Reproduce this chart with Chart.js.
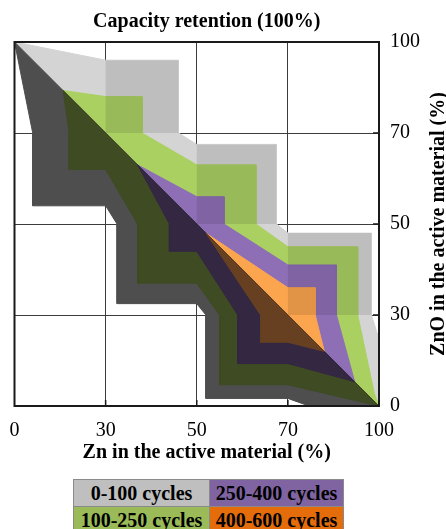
<!DOCTYPE html>
<html>
<head>
<meta charset="utf-8">
<title>Capacity retention</title>
<script src="https://cdn.jsdelivr.net/npm/chart.js@4.4.0/dist/chart.umd.min.js"></script>
<style>
  body { margin: 0; background: #fff; width: 446px; height: 529px; overflow: hidden; position: relative; }
  #chart { position: absolute; left: 0; top: 0; }
  #key { position: absolute; left: 73px; top: 479px; border-collapse: collapse; font: bold 20px "Liberation Serif", "Times New Roman", serif; color: #000; }
  #key td { border: 1px solid #8a8a8a; height: 26px; padding: 0; text-align: center; white-space: nowrap; line-height: 26px; }
  #key td:first-child { width: 135px; }
  #key td:last-child { width: 133px; }
</style>
</head>
<body>
<canvas id="chart" width="446" height="470"></canvas>
<table id="key"></table>
<script>
const tickValues = [0, 30, 50, 70, 100];
const tickLabels = ['0', '30', '50', '70', '100'];

const seriesNames = ['0-100 cycles', '100-250 cycles', '250-400 cycles', '400-600 cycles'];
const seriesColors = ['#bfbfbf', '#9bbb59', '#8064a2', '#e46c0a'];

// regions above the Zn + ZnO = 100 diagonal (light tones)
const band0to100Zn = [0, 30, 46, 46, 50, 67.5, 67.5, 70, 97.5, 97.5, 100, 100];
const band0to100ZnO = [100, 94, 94, 70, 67.5, 67.5, 50, 48, 48, 30, 22, 0];
const band100to250Zn = [16, 30, 38, 38, 50, 63, 63, 70, 93, 93, 98.5, 100];
const band100to250ZnO = [84, 82, 82, 70, 63, 63, 50, 45, 45, 30, 4, 0];
const band250to400Zn = [37, 50, 56, 56, 70, 86, 86, 92];
const band250to400ZnO = [63, 56, 56, 50, 41, 41, 30, 8];
const band400to600Zn = [52, 70, 79, 79, 82];
const band400to600ZnO = [48, 36, 36, 30, 18];

// regions below the diagonal (dark tones)
const shade0to100Zn = [0, 6, 6, 30, 32.5, 32.5, 50, 52, 52, 70, 77, 100];
const shade0to100ZnO = [100, 70, 54, 54, 50, 32.5, 32.5, 30, 2.5, 2.5, 0, 0];
const shade100to250Zn = [16, 18, 18, 30, 37, 37, 50, 55, 55, 70, 100];
const shade100to250ZnO = [84, 70, 62, 62, 50, 37, 37, 30, 7, 7, 0];
const shade250to400Zn = [37, 44, 44, 50, 59, 59, 70, 92];
const shade250to400ZnO = [63, 50, 44, 44, 30, 14, 14, 8];
const shade400to600Zn = [52, 64, 64, 70, 82];
const shade400to600ZnO = [48, 30, 21, 21, 18];

// darker squares on the upper side
const stepZnFrom = [30, 50, 70];
const stepZnTo = [46, 67.5, 97.5];
const stepZnOFrom = [70, 50, 30];
const stepZnOTo = [94, 67.5, 48];

const serif = '"Liberation Serif", "Times New Roman", serif';

// axis is evenly spaced between 0, 30, 50, 70, 100
function toAxis(p) {
    for (let i = 0; i < tickValues.length - 1; i++) {
        const a = tickValues[i], b = tickValues[i + 1];
        if (p <= b) return i + (p - a) / (b - a);
    }
    return tickValues.length - 1;
}

function pointsOf(zn, zno) {
    const pts = zn.map((v, i) => ({ x: toAxis(v), y: toAxis(zno[i]) }));
    pts.push(pts[0]);
    return pts;
}

const layers = [
    [band0to100Zn, band0to100ZnO, '#d4d4d4', 1],
    [band100to250Zn, band100to250ZnO, '#abd062', 1],
    [band250to400Zn, band250to400ZnO, '#8e6fb6', 1],
    [band400to600Zn, band400to600ZnO, '#fca54f', 1]
];
stepZnFrom.forEach((z0, i) => {
    const z1 = stepZnTo[i], o0 = stepZnOFrom[i], o1 = stepZnOTo[i];
    layers.push([[z0, z1, z1, z0], [o0, o0, o1, o1], 'rgba(0, 0, 0, 0.1)', 0]);
});
layers.push(
    [shade0to100Zn, shade0to100ZnO, '#4e4e4e', 1],
    [shade100to250Zn, shade100to250ZnO, '#3e4b23', 1],
    [shade250to400Zn, shade250to400ZnO, '#332742', 1],
    [shade400to600Zn, shade400to600ZnO, '#664021', 1]
);

const decor = {
    id: 'decor',
    afterDatasetsDraw(chart) {
        const { ctx, chartArea: a, scales: { x, y } } = chart;
        ctx.save();
        ctx.strokeStyle = '#1a1a1a';
        ctx.lineWidth = 1.5;
        ctx.beginPath();
        for (let i = 1; i < tickValues.length - 1; i++) {
            const px = x.getPixelForValue(i);
            ctx.moveTo(px, a.bottom);
            ctx.lineTo(px, a.bottom - 6);
            const py = y.getPixelForValue(i);
            ctx.moveTo(a.right, py);
            ctx.lineTo(a.right - 6, py);
        }
        ctx.stroke();
        ctx.lineWidth = 2;
        ctx.strokeRect(a.left, a.top, a.right - a.left, a.bottom - a.top);
        ctx.restore();
    },
    afterDraw(chart) {
        const { ctx, chartArea: a } = chart;
        const cx = (a.left + a.right) / 2 + 10;
        ctx.save();
        ctx.fillStyle = '#000';
        ctx.font = 'bold 20px ' + serif;
        ctx.textAlign = 'center';
        ctx.textBaseline = 'alphabetic';
        ctx.fillText('Capacity retention (100%)', cx, 27);
        ctx.fillText('Zn in the active material (%)', cx, 458);
        ctx.translate(444, (a.top + a.bottom) / 2);
        ctx.rotate(-Math.PI / 2);
        ctx.fillText('ZnO in the active material (%)', 0, 0);
        ctx.restore();
    }
};

const gridColor = c => (c.tick && (c.tick.value === 0 || c.tick.value === 4)) ? 'rgba(0,0,0,0)' : '#3c3c3c';
const evenTicks = scale => { scale.ticks = tickValues.map((_, i) => ({ value: i })); };

new Chart(document.getElementById('chart'), {
    type: 'line',
    data: {
        datasets: layers.map(([zn, zno, color, bw], i) => ({
            data: pointsOf(zn, zno),
            backgroundColor: color,
            borderColor: bw ? color : 'rgba(0,0,0,0)',
            borderWidth: bw,
            fill: 'shape',
            pointRadius: 0,
            tension: 0,
            order: layers.length - i
        }))
    },
    options: {
        responsive: false,
        animation: false,
        events: [],
        layout: { padding: { left: 14.5, top: 42, right: 0, bottom: 0 } },
        plugins: { legend: { display: false }, tooltip: { enabled: false } },
        scales: {
            x: {
                type: 'linear', position: 'bottom', min: 0, max: 4,
                afterBuildTicks: evenTicks,
                afterFit: s => { s.height = 64; },
                border: { display: false },
                grid: { drawTicks: false, color: gridColor, lineWidth: 1 },
                ticks: { autoSkip: false, maxRotation: 0, padding: 9, color: '#000',
                         font: { family: serif, size: 20, lineHeight: 1.6 }, callback: (v, i) => tickLabels[i] }
            },
            y: {
                type: 'linear', position: 'right', min: 0, max: 4,
                afterBuildTicks: evenTicks,
                afterFit: s => { s.width = 67; },
                border: { display: false },
                grid: { drawTicks: false, color: gridColor, lineWidth: 1 },
                ticks: { autoSkip: false, padding: 11, color: '#000',
                         font: { family: serif, size: 20 }, callback: (v, i) => tickLabels[i] }
            }
        }
    },
    plugins: [decor]
});

// two-by-two key table under the chart
const key = document.getElementById('key');
for (let r = 0; r < 2; r++) {
    const row = key.insertRow();
    for (let c = 0; c < 2; c++) {
        const k = c * 2 + r;
        const cell = row.insertCell();
        cell.textContent = seriesNames[k];
        cell.style.background = seriesColors[k];
    }
}
</script>
</body>
</html>
